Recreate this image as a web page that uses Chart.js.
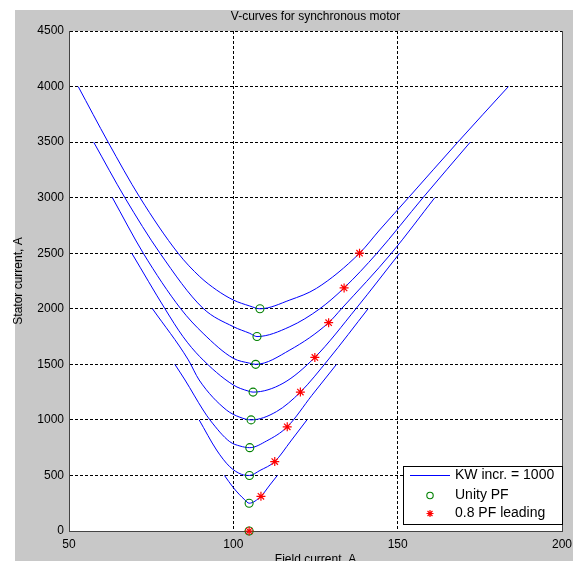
<!DOCTYPE html>
<html><head><meta charset="utf-8">
<script src="https://cdn.jsdelivr.net/npm/chart.js@4/dist/chart.umd.min.js"></script>
<style>html,body{margin:0;padding:0;background:#fff;}#wrap{width:573px;height:561px;}</style>
</head><body><div id="wrap"><canvas id="c" width="573" height="561"></canvas></div>
<script>
// ---- data (field current A, stator current A) ----
const xTicks = [50, 100, 150, 200];
const yTicks = [0, 500, 1000, 1500, 2000, 2500, 3000, 3500, 4000, 4500];

const c1If = [97.3, 100.0, 103.5, 104.8, 108.4, 111.1, 113.4];
const c1Is = [500, 390, 280, 250, 312.5, 414, 500];

const c2If = [89.6, 94.9, 98.9, 102.5, 104.9, 108.1, 112.6, 117.5, 122.4];
const c2Is = [1000, 729, 579, 510, 500, 545, 625, 810, 1000];

const c3If = [82.2, 85.3, 90.8, 92.9, 98.9, 102.0, 105.0, 110.1, 116.4, 123.9, 131.4];
const c3Is = [1500, 1359, 1089, 999, 804, 765, 750, 810, 937.5, 1221, 1500];

const c4If = [75.4, 86.3, 89.6, 97.9, 102.0, 105.4, 113.1, 120.4, 128.8, 141.0];
const c4Is = [2000, 1540, 1359, 1089, 1024, 1000, 1074, 1250, 1539, 2000];

const c5If = [69.1, 79.2, 84.7, 89.8, 100.0, 104.5, 106.0, 115.1, 124.8, 137.4, 150.6];
const c5Is = [2500, 2000, 1749, 1569, 1314, 1260, 1250, 1329, 1562.5, 2004, 2500];

const c6If = [63.2, 72.6, 84.0, 90.8, 100.0, 105.0, 106.8, 117.2, 129.0, 132.9, 148.1, 161.3];
const c6Is = [3000, 2500, 2000, 1779, 1554, 1510, 1500, 1629, 1875, 2000, 2500, 3000];

const c7If = [57.5, 67.0, 77.7, 90.8, 100.0, 105.0, 107.2, 117.2, 126.3, 133.7, 143.7, 157.7, 172.1];
const c7Is = [3500, 3000, 2500, 2004, 1839, 1779, 1750, 1839, 2000, 2187.5, 2500, 3000, 3500];

const c8If = [52.8, 61.9, 71.6, 83.2, 89.8, 94.9, 100.0, 105.0, 108.1, 117.2, 125.3, 138.4, 144.5, 153.3, 168.3, 183.7];
const c8Is = [4000, 3500, 3000, 2500, 2289, 2169, 2079, 2025, 2000, 2079, 2184, 2500, 2709, 3000, 3500, 4000];

const unityIf = [104.8, 104.8, 104.9, 105.0, 105.4, 106.0, 106.8, 107.2, 108.1];
const unityIs = [0, 250, 500, 750, 1000, 1250, 1500, 1750, 2000];

const leadIf = [104.8, 108.4, 112.6, 116.4, 120.4, 124.8, 129.0, 133.7, 138.4];
const leadIs = [0, 312.5, 625, 937.5, 1250, 1562.5, 1875, 2187.5, 2500];

const legendLabels = ['KW incr. = 1000', 'Unity PF', '0.8 PF leading'];
// ---------------------------------------------------------------------------

const F = "'Liberation Sans', Arial, Helvetica, sans-serif";
const BLUE = '#0000ff', GREEN = '#008000', RED = '#ff0000';
const pts = (xs, ys) => xs.map((x, i) => ({x: x, y: ys[i]}));

const curves = [[c1If,c1Is],[c2If,c2Is],[c3If,c3Is],[c4If,c4Is],[c5If,c5Is],[c6If,c6Is],[c7If,c7Is],[c8If,c8Is]];

const datasets = [
  {label: legendLabels[2], data: pts(leadIf, leadIs), showLine: false, pointStyle: 'star',
   pointRadius: 4.5, borderColor: RED, backgroundColor: RED, pointBorderWidth: 1.2, order: 0, clip: false},
  {label: legendLabels[1], data: pts(unityIf, unityIs), showLine: false, pointStyle: 'circle',
   pointRadius: 4, borderColor: GREEN, backgroundColor: 'rgba(0,0,0,0)', pointBorderWidth: 1.1, order: 1, clip: false}
];
curves.forEach((c, i) => datasets.push({
  label: i === 0 ? legendLabels[0] : 'curve' + (i + 1),
  data: pts(c[0], c[1]), showLine: true, pointRadius: 0, borderColor: BLUE, borderWidth: 1,
  cubicInterpolationMode: 'monotone', fill: false, order: 2
}));

const hide = v => (v === 50 || v === 200 || v === 0) ? 'rgba(0,0,0,0)' : '#000';

const bgPlugin = {
  id: 'bg',
  beforeDraw(chart) {
    const {ctx, chartArea: a} = chart;
    ctx.save();
    ctx.fillStyle = '#fff'; ctx.fillRect(0, 0, chart.width, chart.height);
    ctx.fillStyle = '#c8c8c8'; ctx.fillRect(15, 10, chart.width - 15, chart.height - 10);
    ctx.fillStyle = '#fff'; ctx.fillRect(a.left, a.top, a.right - a.left, a.bottom - a.top);
    ctx.restore();
  },
  afterDraw(chart) {
    const {ctx, chartArea: a} = chart;
    ctx.save();
    ctx.strokeStyle = '#444'; ctx.lineWidth = 1;
    ctx.beginPath(); ctx.moveTo(Math.round(a.right) + 0.5, a.top); ctx.lineTo(Math.round(a.right) + 0.5, a.bottom); ctx.stroke();
    // legend
    const lx = 403.5, ly = 466.5, lw = 159, lh = 58;
    ctx.fillStyle = '#fff'; ctx.fillRect(lx, ly, lw, lh);
    ctx.strokeStyle = '#000'; ctx.lineWidth = 1; ctx.strokeRect(lx, ly, lw, lh);
    ctx.font = '14px ' + F; ctx.fillStyle = '#000'; ctx.textBaseline = 'middle'; ctx.textAlign = 'left';
    const rows = [475.5, 495.5, 513.5];
    ctx.strokeStyle = BLUE; ctx.lineWidth = 1;
    ctx.beginPath(); ctx.moveTo(410, rows[0]); ctx.lineTo(450, rows[0]); ctx.stroke();
    ctx.strokeStyle = GREEN; ctx.lineWidth = 1.1;
    ctx.beginPath(); ctx.arc(430, rows[1], 3.2, 0, Math.PI * 2); ctx.stroke();
    ctx.strokeStyle = RED; ctx.lineWidth = 1.2;
    const r = 3.5, cx = 430, cy = rows[2];
    ctx.beginPath();
    ctx.moveTo(cx - r, cy); ctx.lineTo(cx + r, cy);
    ctx.moveTo(cx, cy - r); ctx.lineTo(cx, cy + r);
    const d = r * 0.7071;
    ctx.moveTo(cx - d, cy - d); ctx.lineTo(cx + d, cy + d);
    ctx.moveTo(cx - d, cy + d); ctx.lineTo(cx + d, cy - d);
    ctx.stroke();
    legendLabels.forEach((t, i) => ctx.fillText(t, 455, rows[i]));
    ctx.restore();
  }
};

new Chart(document.getElementById('c'), {
  type: 'scatter',
  data: {datasets: datasets},
  plugins: [bgPlugin],
  options: {
    responsive: false, animation: false, devicePixelRatio: 1,
    layout: {padding: {left: 0, right: 11, top: 0, bottom: 0}},
    plugins: {
      legend: {display: false}, tooltip: {enabled: false},
      title: {display: true, text: 'V-curves for synchronous motor', fullSize: false, color: '#000',
              font: {family: F, size: 12, weight: 'normal'}, padding: {top: 9, bottom: 7.6}}
    },
    scales: {
      x: {
        type: 'linear', min: xTicks[0], max: xTicks[xTicks.length - 1],
        afterBuildTicks: s => { s.ticks = xTicks.map(v => ({value: v})); },
        ticks: {color: '#000', font: {family: F, size: 12}, padding: 6, maxRotation: 0, callback: v => String(v)},
        grid: {color: c => hide(c.tick ? c.tick.value : null), lineWidth: 1, drawTicks: false},
        border: {display: true, color: '#444', width: 1, dash: [3, 2]},
        title: {display: true, text: 'Field current, A', color: '#000', font: {family: F, size: 12}, padding: {top: 0, bottom: -6}},
        afterFit: s => { s.height = 30; s.paddingLeft = 0; s.paddingRight = 0; }
      },
      y: {
        type: 'linear', min: yTicks[0], max: yTicks[yTicks.length - 1],
        afterBuildTicks: s => { s.ticks = yTicks.map(v => ({value: v})); },
        ticks: {color: '#000', font: {family: F, size: 12}, padding: 5, callback: v => String(v)},
        grid: {color: c => (c.tick && c.tick.value === 0) ? 'rgba(0,0,0,0)' : '#000', lineWidth: 1, drawTicks: false},
        border: {display: true, color: '#444', width: 1, dash: [3, 2]},
        title: {display: true, text: 'Stator current, A', color: '#000', font: {family: F, size: 12}, padding: {top: 11, bottom: 0}},
        afterFit: s => { s.width = 69; s.paddingTop = 0; s.paddingBottom = 0; }
      }
    }
  }
});
</script></body></html>
